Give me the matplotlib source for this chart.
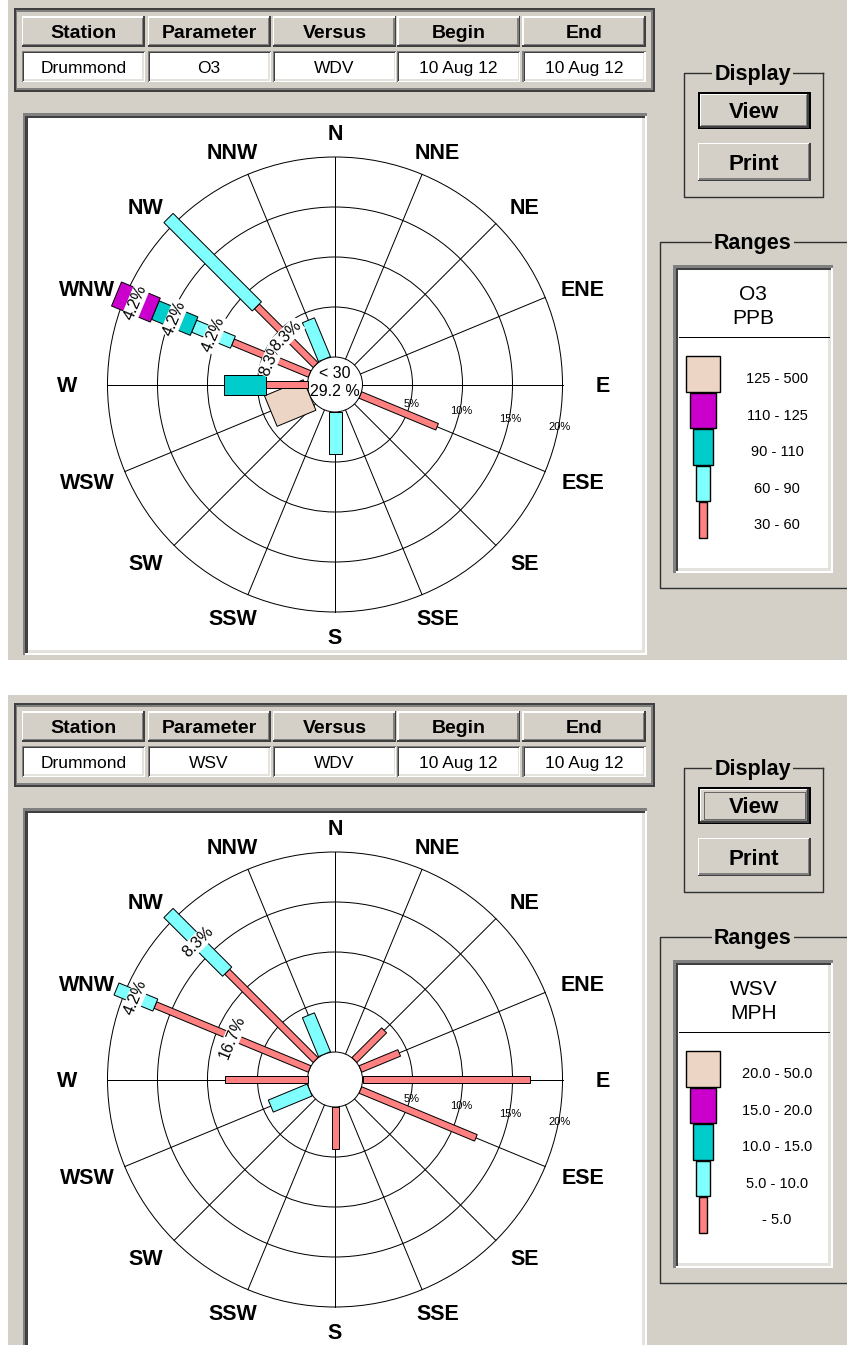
import numpy as np
import matplotlib
matplotlib.use("Agg")
import matplotlib.pyplot as plt
from matplotlib.patches import Rectangle, Polygon, Circle

plt.rcParams['font.family'] = ['Liberation Sans', 'DejaVu Sans']

# ---------------- data ----------------
directions = ["N", "NNE", "NE", "ENE", "E", "ESE", "SE", "SSE",
              "S", "SSW", "SW", "WSW", "W", "WNW", "NW", "NNW"]
table_cols = ["Station", "Parameter", "Versus", "Begin", "End"]
ring_pcts = [5, 10, 15, 20]

# panel 1 : O3 vs wind direction (percent of hours)
o3_row = ["Drummond", "O3", "WDV", "10 Aug 12", "10 Aug 12"]
o3_title = ["O3", "PPB"]
o3_ranges = ["30 - 60", "60 - 90", "90 - 110", "110 - 125", "125 - 500"]
o3_calm = ["< 30", "29.2 %"]
o3_30_60 = [0, 0, 0, 0, 0, 8.3, 0, 0, 0, 0, 0, 0, 4.2, 8.3, 8.3, 0]
o3_60_90 = [0, 0, 0, 0, 0, 0, 0, 0, 4.2, 0, 0, 0, 0, 4.2, 12.5, 4.2]
o3_90_110 = [0, 0, 0, 0, 0, 0, 0, 0, 0, 0, 0, 0, 4.2, 4.2, 0, 0]
o3_110_125 = [0, 0, 0, 0, 0, 0, 0, 0, 0, 0, 0, 0, 0, 4.2, 0, 0]
o3_125_500 = [0, 0, 0, 0, 0, 0, 0, 0, 0, 0, 0, 4.2, 0, 0, 0, 0]
o3_labeled = [("WNW", 0), ("WNW", 1), ("WNW", 2), ("WNW", 3), ("NW", 0)]

# panel 2 : wind speed vs wind direction
wsv_row = ["Drummond", "WSV", "WDV", "10 Aug 12", "10 Aug 12"]
wsv_title = ["WSV", "MPH"]
wsv_ranges = ["- 5.0", "5.0 - 10.0", "10.0 - 15.0", "15.0 - 20.0", "20.0 - 50.0"]
wsv_calm = None
wsv_0_5 = [0, 0, 4.2, 4.2, 16.7, 12.5, 0, 0, 4.2, 0, 0, 0, 8.3, 16.7, 12.5, 0]
wsv_5_10 = [0, 0, 0, 0, 0, 0, 0, 0, 0, 0, 0, 4.2, 0, 4.2, 8.3, 4.2]
wsv_10_15 = [0, 0, 0, 0, 0, 0, 0, 0, 0, 0, 0, 0, 0, 0, 0, 0]
wsv_15_20 = [0, 0, 0, 0, 0, 0, 0, 0, 0, 0, 0, 0, 0, 0, 0, 0]
wsv_20_50 = [0, 0, 0, 0, 0, 0, 0, 0, 0, 0, 0, 0, 0, 0, 0, 0]
wsv_labeled = [("WNW", 0), ("WNW", 1), ("NW", 1)]

# ---------------- style ----------------
GRAY = '#D4D0C8'
PX = 0.72  # one pixel in points
range_colors = ['#FF8080', '#80FFFF', '#00CCCC', '#CC00CC', '#ECD5C4']
bar_w = [7, 13, 20, 26, 33]
R_HOLE = 27.5
PX_PER_PCT = 10.0


def rect(ax, x, y, w, h, fc, z=1, **kw):
    ax.add_patch(Rectangle((x, y), w, h, facecolor=fc, edgecolor='none', zorder=z, **kw))


def txt(ax, x, y, s, size, bold=False, z=8, **kw):
    # y is the visual centre of the capitals
    cap = 0.716 * size * 100 / 72
    ax.text(x, y + cap / 2, s, fontsize=size, fontweight='bold' if bold else 'normal',
            ha=kw.pop('ha', 'center'), va='baseline', zorder=z, **kw)


def raised(ax, x, y, w, h, face=GRAY, t=1.5, z=1):
    rect(ax, x, y, w, h, '#404040', z)
    rect(ax, x, y, w - t, h - t, 'white', z)
    rect(ax, x + t, y + t, w - 2 * t, h - 2 * t, '#808080', z)
    rect(ax, x + t, y + t, w - 3 * t, h - 3 * t, face, z)


def sunken(ax, x, y, w, h, face='white', t=1.5, z=1):
    rect(ax, x, y, w, h, '#808080', z)
    rect(ax, x + t, y + t, w - t, h - t, 'white', z)
    rect(ax, x + t, y + t, w - 2 * t, h - 2 * t, '#404040', z)
    rect(ax, x + 2 * t, y + 2 * t, w - 3 * t, h - 3 * t, '#E4E2DC', z)
    rect(ax, x + 2 * t, y + 2 * t, w - 4 * t, h - 4 * t, face, z)


def group_box(ax, x0, y0, x1, y1, title):
    ax.plot([x1, x0, x0, x1, x1], [y0, y0, y1, y1, y0], color='#303030', lw=1.4 * PX, zorder=2)
    txt(ax, 752.7, y0, title, 15.5, bold=True,
        bbox=dict(facecolor=GRAY, edgecolor='none', pad=1.5))


def draw_rose(ax, cx, cy, series, labeled, calm):
    r_out = R_HOLE + PX_PER_PCT * ring_pcts[-1]
    for p in ring_pcts:
        ax.add_patch(Circle((cx, cy), R_HOLE + PX_PER_PCT * p, fill=False,
                            edgecolor='black', lw=PX, zorder=2))
    for i, d in enumerate(directions):
        th = np.radians(22.5 * i)
        u = np.array([np.sin(th), -np.cos(th)])
        ax.plot([cx + u[0] * R_HOLE, cx + u[0] * r_out], [cy + u[1] * R_HOLE, cy + u[1] * r_out],
                color='black', lw=PX, zorder=2)
        txt(ax, cx + 268 * np.sin(th), cy - 252 * np.cos(th), d, 15.5, bold=True)
    ax.add_patch(Circle((cx, cy), R_HOLE, facecolor='white', edgecolor='black', lw=PX, zorder=3))
    a = np.radians(9)
    for p in ring_pcts:
        r = R_HOLE + PX_PER_PCT * p
        txt(ax, cx + r * np.cos(a), cy + r * np.sin(a) + 6, f"{p}%", 8)

    c = np.array([cx, cy])
    for i, d in enumerate(directions):
        th = np.radians(22.5 * i)
        u = np.array([np.sin(th), -np.cos(th)])
        n = np.array([np.cos(th), np.sin(th)])
        r0 = R_HOLE
        for k, vals in enumerate(series):
            v = vals[i]
            if v <= 0:
                continue
            r1 = r0 + PX_PER_PCT * v
            hw = bar_w[k] / 2
            pts = [c + u * r0 + n * hw, c + u * r1 + n * hw, c + u * r1 - n * hw, c + u * r0 - n * hw]
            ax.add_patch(Polygon(pts, closed=True, facecolor=range_colors[k],
                                 edgecolor='black', lw=PX, zorder=4))
            if (d, k) in labeled:
                mid = c + u * (r0 + r1) / 2
                rot = (-22.5 * i) % 360
                if 90 < rot < 270:
                    rot -= 180
                ax.text(mid[0], mid[1], f"{v:.1f}%", rotation=rot, rotation_mode='anchor',
                        ha='center', va='center', fontsize=11.5, zorder=6,
                        bbox=dict(facecolor='white', edgecolor='none', pad=0.6))
            r0 = r1
    if calm:
        txt(ax, cx, cy - 12, calm[0], 11.5, z=7)
        txt(ax, cx, cy + 5.5, calm[1], 11.5, z=7)


def draw_panel(ax, y0, row, title, ranges, series, labeled, calm, focused):
    rect(ax, 8, y0, 847 - 8, 660, GRAY, 0)

    # table
    rect(ax, 13.5, y0 + 8.3, 641.3, 83.4, '#404040', 1)
    rect(ax, 15.5, y0 + 10.3, 637.3, 79.4, '#808080', 1)
    rect(ax, 17, y0 + 11.8, 634.3, 76.4, GRAY, 1)
    col_x = [21.6, 147.5, 272.8, 397.0, 522.4]
    for x, head, val in zip(col_x, table_cols, row):
        raised(ax, x, y0 + 16, 123.2, 30.7)
        txt(ax, x + 61.6, y0 + 31.5, head, 14, bold=True)
        sunken(ax, x, y0 + 51, 123.2, 30.7, t=1.2)
        txt(ax, x + 61.6, y0 + 66.5, val, 12.5)

    # display group
    group_box(ax, 684.3, y0 + 72.7, 823.3, y0 + 196.7, "Display")
    rect(ax, 697.7, y0 + 91.7, 113, 37.6, 'black', 1)
    raised(ax, 699.5, y0 + 93.5, 109.4, 34)
    txt(ax, 754, y0 + 110.5, "View", 16, bold=True)
    if focused:
        ax.add_patch(Rectangle((703.5, y0 + 97), 101.5, 27, fill=False, edgecolor='black',
                               lw=PX, linestyle=(0, (1, 1)), zorder=3))
    raised(ax, 697.7, y0 + 142.7, 113, 38.3)
    txt(ax, 754, y0 + 162, "Print", 16, bold=True)

    # ranges group + legend
    group_box(ax, 660, y0 + 241.7, 850, y0 + 588, "Ranges")
    sunken(ax, 673, y0 + 265, 160.3, 308.3, t=2.5, z=3)
    txt(ax, 753.3, y0 + 293, title[0], 15, z=8)
    txt(ax, 753.3, y0 + 317, title[1], 15, z=8)
    ax.plot([679, 829], [y0 + 337.3, y0 + 337.3], color='black', lw=PX, zorder=8)
    for j, k in enumerate(range(len(ranges) - 1, -1, -1)):
        top = y0 + 356 + 36.6 * j
        w = bar_w[k] * 1.03
        ax.add_patch(Rectangle((703 - w / 2, top), w, 35.6, facecolor=range_colors[k],
                               edgecolor='black', lw=PX * 1.4, zorder=8))
        txt(ax, 777, top + 17.8 + 4, ranges[k], 10.5, z=8)

    # rose frame
    sunken(ax, 23, y0 + 113.3, 624, 542, t=2.4, z=1)
    draw_rose(ax, 335, y0 + 384.5, series, labeled, calm)


fig = plt.figure(figsize=(8.47, 13.45), dpi=100)
ax = fig.add_axes([0, 0, 1, 1])
ax.set_xlim(0, 847)
ax.set_ylim(1345, 0)
ax.axis('off')

draw_panel(ax, 0, o3_row, o3_title, o3_ranges,
           [o3_30_60, o3_60_90, o3_90_110, o3_110_125, o3_125_500],
           o3_labeled, o3_calm, False)
draw_panel(ax, 695, wsv_row, wsv_title, wsv_ranges,
           [wsv_0_5, wsv_5_10, wsv_10_15, wsv_15_20, wsv_20_50],
           wsv_labeled, wsv_calm, True)

fig.savefig('out.png', dpi=100, facecolor='white')
